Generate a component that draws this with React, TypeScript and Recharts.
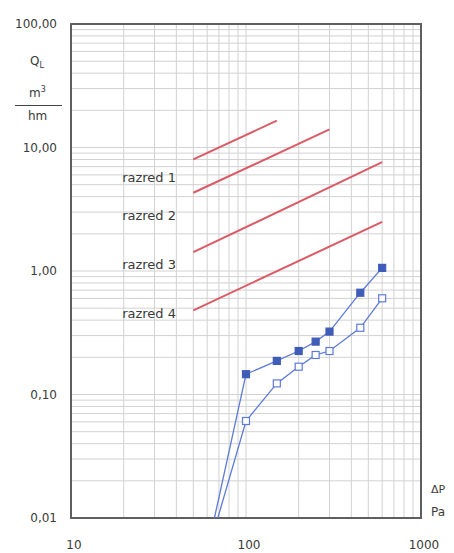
import {
  ComposedChart,
  Line,
  XAxis,
  YAxis,
  CartesianGrid,
  ReferenceArea,
} from "recharts";

// #region Data
// class limit lines (razred 1..4): pressure [Pa] and flow [m3/hm]
const razred1P = [50, 150];
const razred1Q = [8.0, 16.5];
const razred2P = [50, 300];
const razred2Q = [4.3, 14.0];
const razred3P = [50, 600];
const razred3Q = [1.42, 7.6];
const razred4P = [50, 600];
const razred4Q = [0.48, 2.5];

// measured curves (first point is where the line leaves the bottom edge)
const filledP = [66, 100, 150, 200, 250, 300, 450, 600];
const filledQ = [0.01, 0.146, 0.187, 0.225, 0.268, 0.323, 0.667, 1.06];
const openP = [69, 100, 150, 200, 250, 300, 450, 600];
const openQ = [0.01, 0.061, 0.123, 0.168, 0.209, 0.225, 0.347, 0.601];

const xTicks = [10, 20, 30, 40, 50, 60, 70, 80, 90, 100, 200, 300, 400, 500, 600, 700, 800, 900, 1000];
const xLabels = [10, 100, 1000];
const yTicks = [
  0.01, 0.02, 0.03, 0.04, 0.05, 0.06, 0.07, 0.08, 0.09,
  0.1, 0.2, 0.3, 0.4, 0.5, 0.6, 0.7, 0.8, 0.9,
  1, 2, 3, 4, 5, 6, 7, 8, 9,
  10, 20, 30, 40, 50, 60, 70, 80, 90, 100,
];
const yLabels: Record<number, string> = {
  0.01: "0,01",
  0.1: "0,10",
  1: "1,00",
  10: "10,00",
  100: "100,00",
};
// #endregion

const zip = (p: number[], q: number[]) => p.map((x, i) => ({ p: x, q: q[i] }));

const FONT = "'DejaVu Sans', sans-serif";
const RED = "#dc5a66";
const BLUE = "#5d7ad8";

const square = (filled: boolean) => (props: any) => {
  const { cx, cy, index, payload } = props;
  if (payload.q <= 0.01) return <g key={`e-${index}`} />;
  return (
    <rect
      key={`s-${index}`}
      x={cx - 3.5}
      y={cy - 3.5}
      width={7}
      height={7}
      fill={filled ? "#3f5cb8" : "#ffffff"}
      stroke={filled ? "#3f5cb8" : BLUE}
      strokeWidth={1.2}
    />
  );
};

const razredLabels = [
  { text: "razred 1", top: 171 },
  { text: "razred 2", top: 209 },
  { text: "razred 3", top: 258 },
  { text: "razred 4", top: 307 },
];

const txt: React.CSSProperties = {
  position: "absolute",
  fontFamily: FONT,
  fontSize: 12,
  color: "#3a3a3a",
  lineHeight: "14px",
  whiteSpace: "nowrap",
};

export default function App() {
  return (
    <div style={{ position: "absolute", left: 0, top: 0, width: 454, height: 553, background: "#fff" }}>
      <ComposedChart
        width={454}
        height={553}
        margin={{ top: 24, right: 33, left: 0, bottom: 0 }}
      >
        <CartesianGrid stroke="#d2d2d2" strokeWidth={1} />
        <XAxis
          dataKey="p"
          type="number"
          scale="log"
          domain={[10, 1000]}
          allowDataOverflow
          ticks={xTicks}
          interval={0}
          height={35}
          tickSize={0}
          tickMargin={22}
          axisLine={false}
          tickFormatter={(v: number) => (xLabels.includes(v) ? String(v) : "")}
          tick={{ fontSize: 12, fill: "#3a3a3a", fontFamily: FONT, dx: 3 }}
        />
        <YAxis
          dataKey="q"
          type="number"
          scale="log"
          domain={[0.01, 100]}
          allowDataOverflow
          ticks={yTicks}
          interval={0}
          width={71}
          tickSize={0}
          tickMargin={14}
          axisLine={false}
          tickFormatter={(v: number) => yLabels[v] ?? ""}
          tick={{ fontSize: 12, fill: "#3a3a3a", fontFamily: FONT }}
        />
        <ReferenceArea
          x1={10}
          x2={1000}
          y1={0.01}
          y2={100}
          fill="none"
          fillOpacity={0}
          stroke="#5f5f5f"
          strokeWidth={2}
          ifOverflow="visible"
        />
        <Line data={zip(razred1P, razred1Q)} dataKey="q" stroke={RED} strokeWidth={2} dot={false} isAnimationActive={false} />
        <Line data={zip(razred2P, razred2Q)} dataKey="q" stroke={RED} strokeWidth={2} dot={false} isAnimationActive={false} />
        <Line data={zip(razred3P, razred3Q)} dataKey="q" stroke={RED} strokeWidth={2} dot={false} isAnimationActive={false} />
        <Line data={zip(razred4P, razred4Q)} dataKey="q" stroke={RED} strokeWidth={2} dot={false} isAnimationActive={false} />
        <Line
          data={zip(openP, openQ)}
          dataKey="q"
          stroke={BLUE}
          strokeWidth={1.3}
          dot={square(false)}
          isAnimationActive={false}
        />
        <Line
          data={zip(filledP, filledQ)}
          dataKey="q"
          stroke={BLUE}
          strokeWidth={1.3}
          dot={square(true)}
          isAnimationActive={false}
        />
      </ComposedChart>

      {/* y axis title */}
      <div style={{ ...txt, left: 30, top: 54 }}>
        Q<sub style={{ fontSize: 8 }}>L</sub>
      </div>
      <div style={{ ...txt, left: 29, top: 83 }}>
        m<sup style={{ fontSize: 8 }}>3</sup>
      </div>
      <div style={{ position: "absolute", left: 15, top: 105, width: 47, height: 1, background: "#444" }} />
      <div style={{ ...txt, left: 28, top: 109 }}>hm</div>

      {/* x axis title */}
      <div style={{ ...txt, left: 431, top: 483, fontSize: 11 }}>ΔP</div>
      <div style={{ ...txt, left: 431, top: 505 }}>Pa</div>

      {razredLabels.map((l) => (
        <div key={l.text} style={{ ...txt, right: 454 - 176, top: l.top, fontSize: 13 }}>
          {l.text}
        </div>
      ))}
    </div>
  );
}
